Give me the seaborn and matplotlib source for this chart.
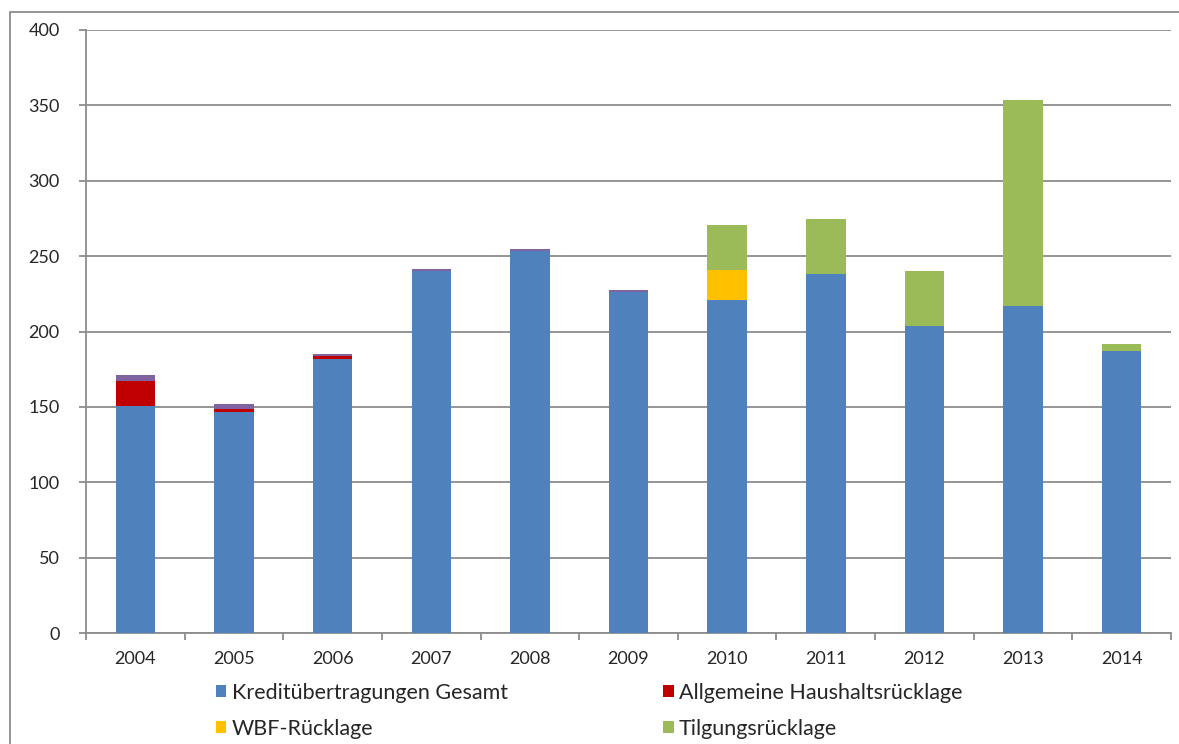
import matplotlib
matplotlib.use('Agg')
import matplotlib.pyplot as plt
from matplotlib.patches import Patch, Rectangle
from matplotlib.ticker import FixedLocator
import numpy as np
import seaborn as sns

years = ['2004', '2005', '2006', '2007', '2008', '2009', '2010', '2011', '2012', '2013', '2014']
kredituebertragungen = [150.5, 146.5, 181.5, 240.0, 253.5, 226.5, 221.0, 238.0, 203.5, 217.0, 187.0]
haushaltsruecklage = [16.5, 2.0, 2.5, 0.0, 0.0, 0.0, 0.0, 0.0, 0.0, 0.0, 0.0]
wbf_ruecklage = [0.0, 0.0, 0.0, 0.0, 0.0, 0.0, 20.0, 0.0, 0.0, 0.0, 0.0]
tilgungsruecklage = [0.0, 0.0, 0.0, 0.0, 0.0, 0.0, 29.5, 36.5, 36.5, 136.5, 5.0]
sonstige = [4.0, 3.3, 1.0, 1.2, 1.2, 1.0, 0.0, 0.0, 0.0, 0.0, 0.0]

series = [
    ('Kreditübertragungen Gesamt', kredituebertragungen, '#4F81BD'),
    ('Allgemeine Haushaltsrücklage', haushaltsruecklage, '#C00000'),
    ('WBF-Rücklage', wbf_ruecklage, '#FFC000'),
    ('Tilgungsrücklage', tilgungsruecklage, '#9BBB59'),
    ('Sonstige', sonstige, '#8064A2'),
]
# legend fills column by column -> order so rows read K / Allg, WBF / Tilg
legend_names = ['Kreditübertragungen Gesamt', 'WBF-Rücklage',
                'Allgemeine Haushaltsrücklage', 'Tilgungsrücklage']

sns.set_style('white')
plt.rcParams['font.family'] = ['Lato', 'DejaVu Sans']

fig = plt.figure(figsize=(11.79, 7.44), dpi=100)
ax = fig.add_axes([86 / 1179, 1 - 633 / 744, (1171 - 86) / 1179, (633 - 30) / 744])

grid_color = '#8C8C8C'
bottom = np.zeros(len(years))
for name, vals, color in series:
    sns.barplot(x=years, y=vals, bottom=bottom, color=color, width=0.4,
                saturation=1, linewidth=0, edgecolor='none', ax=ax, zorder=3)
    bottom = bottom + np.array(vals)

ax.set_ylim(0, 400)
ax.set_xlim(-0.5, len(years) - 0.5)
ax.set_yticks(range(0, 401, 50))
ax.yaxis.grid(True, color=grid_color, linewidth=1.3)
ax.set_axisbelow(True)
ax.set_xlabel('')
ax.set_ylabel('')

for s in ['top', 'right']:
    ax.spines[s].set_visible(False)
for s in ['left', 'bottom']:
    ax.spines[s].set_color(grid_color)
    ax.spines[s].set_linewidth(1.3)

ax.tick_params(axis='y', direction='out', length=5, width=1.3, color=grid_color,
               labelsize=13, pad=14, left=True)
ax.tick_params(axis='x', which='major', length=0, labelsize=13, pad=13)
ax.xaxis.set_minor_locator(FixedLocator(np.arange(-0.5, len(years), 1.0)))
ax.tick_params(axis='x', which='minor', direction='out', length=5, width=1.3,
               color=grid_color, bottom=True)

colors = {n: c for n, _, c in series}
handles = [Patch(facecolor=colors[n], edgecolor='none') for n in legend_names]
fig.legend(handles, legend_names, loc='upper left', bbox_to_anchor=(207 / 1179, 1 - 674 / 744),
           ncol=2, frameon=False, fontsize=15.5, handlelength=0.5, handleheight=0.5,
           handletextpad=0.25, columnspacing=7.2, labelspacing=0.75, borderaxespad=0)

fig.patches.append(Rectangle((10 / 1179, -0.05), 1.1, 1 - 12 / 744 + 0.05,
                             transform=fig.transFigure, fill=False,
                             edgecolor='#8C8C8C', linewidth=1.3))

fig.savefig('out.png', dpi=100)
